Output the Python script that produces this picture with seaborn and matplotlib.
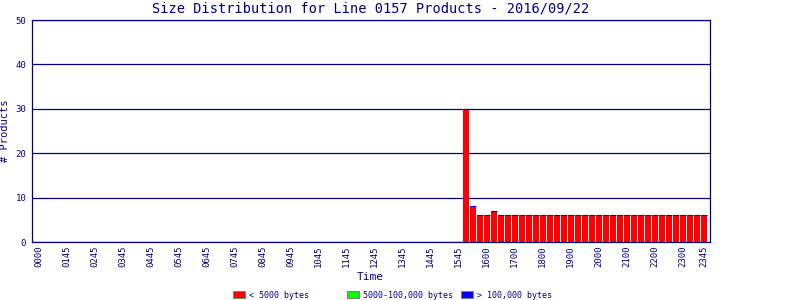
import matplotlib
matplotlib.use("Agg")
import matplotlib.pyplot as plt
import matplotlib.patches as mpatches
import numpy as np
import pandas as pd
import seaborn as sns

# ---- data -------------------------------------------------------------
title = "Size Distribution for Line 0157 Products - 2016/09/22"
# 15-minute slot index (0 .. 95) of each bar with data
slots = [61, 62, 63, 64, 65, 66, 67, 68, 69, 70, 71, 72, 73, 74, 75, 76, 77, 78,
         79, 80, 81, 82, 83, 84, 85, 86, 87, 88, 89, 90, 91, 92, 93, 94, 95]
small = [30, 8, 6, 6, 7, 6, 6, 6, 6, 6, 6, 6, 6, 6, 6, 6, 6, 6,
         6, 6, 6, 6, 6, 6, 6, 6, 6, 6, 6, 6, 6, 6, 6, 6, 6]
medium = [0, 0, 0, 0, 0, 0, 0, 0, 0, 0, 0, 0, 0, 0, 0, 0, 0, 0,
          0, 0, 0, 0, 0, 0, 0, 0, 0, 0, 0, 0, 0, 0, 0, 0, 0]
large = [0, 0, 0, 0, 0, 0, 0, 0, 0, 0, 0, 0, 0, 0, 0, 0, 0, 0,
         0, 0, 0, 0, 0, 0, 0, 0, 0, 0, 0, 0, 0, 0, 0, 0, 0]
tick_slots = [0, 4, 8, 12, 16, 20, 24, 28, 32, 36, 40, 44, 48, 52, 56, 60,
              64, 68, 72, 76, 80, 84, 88, 92, 95]
tick_labels = ["0000", "0145", "0245", "0345", "0445", "0545", "0645", "0745",
               "0845", "0945", "1045", "1145", "1245", "1345", "1445", "1545",
               "1600", "1700", "1800", "1900", "2000", "2100", "2200", "2300",
               "2345"]
series_names = ["< 5000 bytes", "5000-100,000 bytes", "> 100,000 bytes"]
yticks = [0, 10, 20, 30, 40, 50]

# ---- style ------------------------------------------------------------
NAVY = "#000080"
RED, GREEN, BLUE = "#ff0000", "#00ff00", "#0000ff"
sns.set_style("white")
plt.rcParams["font.family"] = ["DejaVu Sans Mono", "DejaVu Sans"]

df = pd.DataFrame({"slot": slots, "small": small, "medium": medium, "large": large})
bottom_medium = np.array(small)
bottom_large = np.array(small) + np.array(medium)

fig = plt.figure(figsize=(8, 3), dpi=100)
ax = fig.add_axes([31.5 / 800, 58 / 300, (710 - 31.5) / 800, 222 / 300])

sns.barplot(data=df, x="slot", y="small", native_scale=True, color=RED,
            width=0.86, linewidth=0, edgecolor="none", saturation=1,
            errorbar=None, ax=ax)
sns.barplot(data=df, x="slot", y="medium", native_scale=True, color=GREEN,
            width=0.86, linewidth=0, edgecolor="none", saturation=1,
            errorbar=None, bottom=bottom_medium, ax=ax)
sns.barplot(data=df, x="slot", y="large", native_scale=True, color=BLUE,
            width=0.86, linewidth=0.8, edgecolor=BLUE, saturation=1,
            errorbar=None, bottom=bottom_large, ax=ax)

ax.set_xlim(-1.03, 95.9)
ax.set_ylim(0, 50)
ax.set_yticks(yticks)
ax.set_yticklabels([str(v) for v in yticks])
ax.set_xticks(tick_slots)
ax.set_xticklabels(tick_labels, rotation=90)

ax.set_axisbelow(True)
ax.yaxis.grid(True, color=NAVY, linewidth=0.9)
ax.xaxis.grid(False)
for sp in ax.spines.values():
    sp.set_color(NAVY)
    sp.set_linewidth(0.9)
    sp.set_visible(True)
ax.tick_params(axis="both", length=0, colors=NAVY, labelsize=6.5)
ax.tick_params(axis="y", pad=3.8)
ax.tick_params(axis="x", pad=2.8)

ax.set_xlabel("Time", color=NAVY, fontsize=8, labelpad=3.5)
ax.set_ylabel("# Products", color=NAVY, fontsize=7.5, labelpad=4)
ax.set_title(title, color=NAVY, fontsize=9.8, pad=5.5)

# legend: three fixed-width columns
for name, col, xpix in zip(series_names, [RED, GREEN, BLUE], [233, 347, 461]):
    h = mpatches.Patch(facecolor=col, edgecolor="#808080", linewidth=0.8)
    leg = fig.legend(handles=[h], labels=[name], loc="center left",
                     bbox_to_anchor=(xpix / 800, 1 - 295 / 300),
                     frameon=False, borderpad=0, borderaxespad=0,
                     fontsize=6, handlelength=1.44, handleheight=0.96,
                     handletextpad=0.5)
    for t in leg.get_texts():
        t.set_color(NAVY)

fig.savefig("out.png", dpi=100)
